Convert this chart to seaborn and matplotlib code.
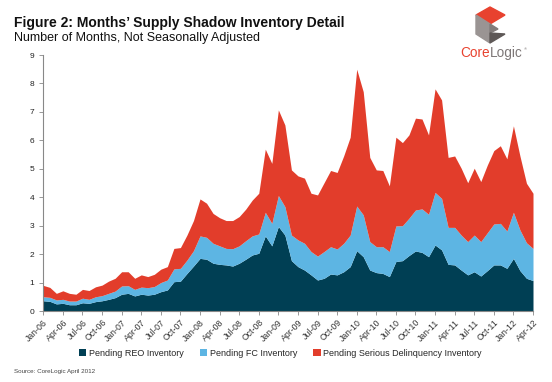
import matplotlib
matplotlib.use("Agg")
import matplotlib.pyplot as plt
from matplotlib.patches import Polygon
import numpy as np
import pandas as pd
import seaborn as sns

# ---- data (months' supply, Jan-06 .. Apr-12) ----
reo = [0.36,0.34,0.25,0.27,0.22,0.22,0.29,0.27,0.33,0.36,0.41,0.47,0.59,0.62,0.53,0.59,0.56,0.59,0.68,0.74,
       1.03,1.05,1.32,1.58,1.85,1.82,1.68,1.64,1.62,1.58,1.68,1.82,1.97,2.03,2.64,2.29,2.97,2.67,1.77,1.56,
       1.44,1.27,1.09,1.15,1.30,1.27,1.38,1.56,2.12,1.91,1.44,1.35,1.32,1.21,1.74,1.77,1.95,2.11,2.06,1.91,
       2.32,2.15,1.64,1.62,1.44,1.27,1.38,1.23,1.42,1.62,1.62,1.50,1.85,1.42,1.15,1.07]
fc = [0.14,0.14,0.14,0.14,0.13,0.13,0.16,0.14,0.17,0.18,0.21,0.23,0.29,0.27,0.23,0.25,0.26,0.27,0.32,0.35,
      0.45,0.45,0.47,0.54,0.79,0.77,0.70,0.65,0.58,0.61,0.61,0.65,0.67,0.68,0.83,0.79,1.09,1.00,0.90,0.94,
      0.94,0.82,0.84,0.94,0.96,0.91,1.00,1.11,1.57,1.47,1.00,0.91,0.94,0.88,1.25,1.23,1.31,1.44,1.53,1.49,
      1.85,1.81,1.30,1.32,1.23,1.17,1.29,1.21,1.33,1.44,1.46,1.31,1.62,1.43,1.25,1.13]
sdq = [0.40,0.35,0.23,0.30,0.27,0.24,0.31,0.31,0.35,0.37,0.43,0.45,0.50,0.49,0.39,0.43,0.39,0.43,0.47,0.47,
       0.72,0.73,0.88,1.06,1.30,1.20,1.05,0.99,0.98,0.99,1.03,1.11,1.26,1.43,2.22,2.11,3.01,2.87,2.29,2.25,
       2.29,2.05,2.15,2.42,2.68,2.69,3.07,3.44,4.81,4.33,2.96,2.70,2.68,2.31,3.12,2.92,2.93,3.23,3.16,2.79,
       3.64,3.46,2.46,2.51,2.35,2.07,2.35,2.11,2.38,2.58,2.73,2.54,3.04,2.60,2.09,1.94]
series_names = ["Pending REO Inventory", "Pending FC Inventory", "Pending Serious Delinquency Inventory"]
colors = ["#003F54", "#5DB5E3", "#E23D2B"]
tick_labels = ["Jan-06","Apr-06","Jul-06","Oct-06","Jan-07","Apr-07","Jul-07","Oct-07","Jan-08","Apr-08",
               "Jul-08","Oct-08","Jan-09","Apr-09","Jul-09","Oct-09","Jan-10","Apr-10","Jul-10","Oct-10",
               "Jan-11","Apr-11","Jul-11","Oct-11","Jan-12","Apr-12"]

df = pd.DataFrame({series_names[0]: reo, series_names[1]: fc, series_names[2]: sdq})
df["month"] = np.arange(len(df))

sns.set_theme(style="white")
plt.rcParams["font.family"] = ["Liberation Sans", "DejaVu Sans"]

fig = plt.figure(figsize=(5.52, 3.82), dpi=100)
ax = fig.add_axes([43.3/552, 1-311/382, (533-43.3)/552, (311-55)/382])

ax.stackplot(df["month"], df[series_names[0]], df[series_names[1]], df[series_names[2]],
             colors=colors, labels=series_names, linewidth=0)

ax.set_xlim(0, len(df) - 1)
ax.set_ylim(0, 9)
ax.set_yticks(range(0, 10))
ax.set_yticklabels([str(v) for v in range(0, 10)], fontsize=6, color="#222222")
ax.set_xticks(np.arange(0, len(df), 3))
ax.set_xticklabels(tick_labels, fontsize=6.3, rotation=45, ha="right", rotation_mode="anchor", color="#333333")
ax.tick_params(axis="both", which="both", direction="out", length=3, width=0.6, color="#888888",
               left=True, bottom=True, pad=2)
ax.tick_params(axis="y", pad=3.5)
sns.despine(ax=ax)
for s in ("left", "bottom"):
    ax.spines[s].set_color("#888888")
    ax.spines[s].set_linewidth(0.8)

# legend
handles, labels = ax.get_legend_handles_labels()
fig.legend(handles, labels, loc="center", bbox_to_anchor=(0.508, 1-353/382), ncol=3, frameon=False,
           fontsize=6.5, handlelength=0.8, handleheight=0.8, handletextpad=0.3, columnspacing=1.8)

# titles
fig.text(14/552, 1-23/382, "Figure 2: Months\u2019 Supply Shadow Inventory Detail", fontsize=10,
         fontweight="bold", va="center", ha="left", color="#111111")
fig.text(14/552, 1-38/382, "Number of Months, Not Seasonally Adjusted", fontsize=9,
         va="center", ha="left", color="#111111")
fig.text(14/552, 1-372/382, "Source: CoreLogic April 2012", fontsize=4.5, va="center", ha="left",
         color="#444444")

# logo
def P(x, y):
    return (x/552, 1-y/382)
fig.patches.append(Polygon([P(476,15), P(490,7), P(505,15), P(490,24)], closed=True,
                           transform=fig.transFigure, color="#E8422F", zorder=5))
fig.patches.append(Polygon([P(476,15), P(490,24), P(490,43), P(476,34)], closed=True,
                           transform=fig.transFigure, color="#9A9493", zorder=5))
fig.patches.append(Polygon([P(490,24), P(498,29), P(490,33)], closed=True,
                           transform=fig.transFigure, color="#827C7B", zorder=5))
fig.patches.append(Polygon([P(490,33), P(505,34), P(490,43)], closed=True,
                           transform=fig.transFigure, color="#5E5857", zorder=5))
t1 = fig.text(460/552, 1-53/382, "Core", fontsize=9.8, color="#E8422F", va="center", ha="left")
fig.canvas.draw()
bb = t1.get_window_extent()
t2 = fig.text(bb.x1/fig.bbox.width, 1-53/382, "Logic", fontsize=9.8, color="#7D7777", va="center", ha="left")
fig.canvas.draw()
bb2 = t2.get_window_extent()
fig.text(bb2.x1/fig.bbox.width + 0.002, 1-49/382, "\u00ae", fontsize=3, color="#7D7777", va="center", ha="left")

fig.savefig("out.png", dpi=100)
